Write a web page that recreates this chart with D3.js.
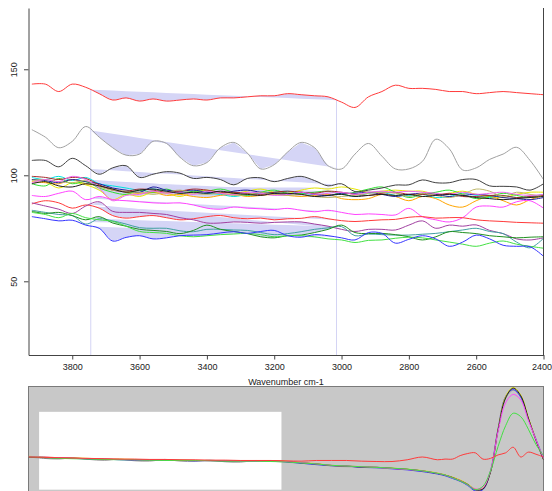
<!DOCTYPE html>
<html><head><meta charset="utf-8">
<script src="https://cdn.jsdelivr.net/npm/d3@7"></script>
<style>
body{margin:0;background:#fff}
svg{display:block}
text{font-family:"Liberation Sans",Arial,sans-serif}
</style>
</head><body>
<svg id="c" width="552" height="491"></svg>
<script>
// ---------- DATA ----------
const wavenumbers = [3920,3880,3840,3800,3760,3720,3680,3640,3600,3560,3520,3480,3440,3400,3360,3320,3280,3240,3200,3160,3120,3080,3040,3000,2960,2920,2880,2840,2800,2760,2720,2680,2640,2600,2560,2520,2480,2440,2400];
const xTicks = [3800,3600,3400,3200,3000,2800,2600,2400];
const yTicks = [50,100,150];
const baselinePoints = [3745, 3015];

const redTop   = [143,143,139.5,143,141.5,138.5,135.5,136.5,135,136,135,135.5,136,135.5,136.5,136.5,137,137.5,137.5,138.5,138,137.5,137,134.5,132,137,139.5,142.5,141,141,140.5,139.5,139.5,138.5,139,139.5,139,138.5,138];
const grayS    = [121.5,118,113,116,123,118,113,109.5,110,116,115,108.5,104.5,106,113,115.5,110.5,103,105,111,115.5,113,104.5,103,110,115,109,103,103,106.5,117,112.5,102.5,103.5,107.5,110,113.2,107,98];
const blackTop = [107,107,104,108,104.5,100.5,103.5,104.5,99,100.5,101.7,101,98.5,99,98,95.5,98.5,98.8,97,98.5,99.5,97.5,95,96,92.3,93,94,95.4,95.5,97.8,96.5,96.5,98,98,95,94.8,94.5,93,96];

const yellowS  = [98,97,94,96.5,95.5,93,88.5,91,90,92,91.5,90,92,93,92,91.5,92.5,93.5,92,91.5,93,94,93.5,94.5,93.5,92,92.5,93,92.5,92.5,91,91.5,92.5,91,90,89.5,91,92,92];
const cyanS    = [99,98,99.5,97.5,99,96,95,94,93,93.5,92.5,92,92,91.5,91,90,91,91.5,92,92.5,91.5,91,90.5,91,90,91.5,92,90.5,90.5,91,89.5,90,91.5,90.5,89.5,90.5,89.5,90,91];
const orangeS  = [97,96.5,96,98,96,95,93.5,92,91.5,92,90.5,91,90,89.5,90.5,91,90,90.5,91,90.5,90,90.5,91,89,88.5,89,91,90,88,90,89,86,85,88,90,88,86,88.5,90.5];
const limeS    = [96,95,98.5,96,97,94,92,91,93,92,93.5,91.5,92.5,92.5,93.5,92,90.5,92,93,91.5,91.5,92,92.5,91,92,93.5,94.5,92,89.5,91,92,93,91,89,90,91.5,90.5,89.5,91];
const navyS    = [98,97.5,96.5,98,97,96,94,93,92,94.5,93,92.5,93,92,91.5,92.5,93,92,91.5,91,92,91,90.5,91.5,91.5,92,91,90,91,91.5,91,90,90.5,91,90.5,89.5,89,88.5,89.5];
const brownS   = [99.5,99,98,99,98.5,95.5,93,92.5,93.5,93,92,92.5,93.5,93,92,92,91.5,91,92,92.5,92,91.5,92.5,92,91,90.5,91.5,92,91,91,90.5,91.5,90,90,90.5,90.5,89.5,90,90.5];
const khakiS   = [97.5,98,97,96.5,97.5,94.5,93,92.5,92,91,92,93,91.5,91,91.5,90.5,91,92,91,90.5,91,90,89.5,90,90.5,91.5,92,91.5,90,91.5,90.5,89.5,91,93.5,92.5,90,92,91,90];
const violetS  = [96.5,98,97,99.5,98,94,88,90.5,91,92.5,91.5,92,91,92.5,91.5,91,92,91.5,90.5,91,92,91,91.5,92,91,92,92.5,92,92.5,92,91.5,91,92,91,91.5,92,91,90.5,91];
const blackS   = [96,97,95,94.5,96,95,93.5,92,93,93.5,92.5,91.5,92,91.5,92.5,91.5,91,90.5,91.5,91.5,91,90,90.5,91,90,90.5,91,90.5,91,90,90.5,91,90.5,89.5,89,88.5,89,89.5,90];

const magentaS = [90.5,90,91.5,92.5,88.5,90,88.5,88,87.5,87,86.8,87,86,84.5,84,85,84.5,84.2,83.8,84.4,83.5,82.8,83.5,82.5,81.5,81.8,81.5,81.3,84.4,80.5,79,78,80,85,85.5,85,87.5,88,84.5];
const redLow   = [86.5,88,87,84.5,86,84.5,81,79.8,80.5,81,80,79,79.5,80.5,81,80,79.5,79.8,79,79.5,79.7,80.5,79.5,78.6,78.2,78.6,79,79.2,80.2,80.5,79.8,80,80,79,78.5,78.2,77.8,77.6,77.4];
const purpleS  = [87,85.5,84,82,85.5,87.5,83,82.5,82.5,82,81.5,80,79,77.5,77.5,78,77.8,77.4,77.8,78,78,77,76,74.5,73.5,74.5,74.5,74.2,76.5,78.5,75,76.5,76,76.6,74,72.5,70,69.5,70.5];
const tealS    = [83.5,82.5,81.5,81,77,79.5,78.5,77,75.3,75,75,73.8,73.4,74.5,74.5,74.2,74,73,72,72.5,73.4,74.5,75.2,75.8,71.5,72.3,72,71.8,71.8,72.2,72.6,73.4,74.2,75,73.5,72.5,68.5,65.8,70.3];
const dkgreenS = [83,82,82.5,81,79,80.5,77.5,76,74.5,74,73.5,72.5,74,76.5,74.5,73.5,72.5,71,70.5,71.5,71.8,73,74.5,76.5,73,72.5,72.6,72,71,69.5,71,73.4,73,72.5,71.5,71,70.5,70.8,71];
const greenS   = [82.5,81.5,80,82,80,79,78.3,76,73.5,73,72.6,71.5,71,71.5,72,72.3,72.6,72,71,71.5,71.5,71,70,69.5,68.3,69.3,69.5,70.3,70.8,70.5,69.5,68.5,67.5,66.5,68,69,67.5,66.5,65.6];
const blueS    = [80.5,79.5,78.5,78.8,76.5,75,69,70.7,71.5,70,70.5,71.5,71.8,72,72.8,73.4,72.6,73.5,74,71.5,70.8,72,71.5,70.5,69.5,73,72.6,68,69.8,71.5,70,66.5,68.5,71.8,70,67,66.5,66.3,61.8];

const seriesNames  = ["yellow","cyan","orange","lime","navy","brown","khaki","violet","black2","magenta","redLow","purple","teal","darkgreen","green","blue","blackTop","gray","redTop"];
const seriesValues = [yellowS,cyanS,orangeS,limeS,navyS,brownS,khakiS,violetS,blackS,magentaS,redLow,purpleS,tealS,dkgreenS,greenS,blueS,blackTop,grayS,redTop];
const seriesColors = ["#e8e800","#00e0e0","#ffa500","#30dd30","#2020a0","#a52a2a","#bdb76b","#ee66ee","#202020","#ff44ff","#ff3a3a","#a040a0","#40a0a0","#209020","#44e044","#3535ff","#404040","#a0a0a0","#ff3a3a"];

// overview (full range) data
const ovWavenumbers = [4000,3900,3800,3700,3600,3500,3400,3300,3200,3100,3000,2900,2800,2700,2600,2500,2400,2300,2200,2100,2000,1900,1800,1700,1600,1500,1400,1300,1250,1200,1150,1100,1050,1000,950,900,850,800,750,700,650,600];
const ovBlack   = [0,-0.01,-0.015,-0.02,-0.025,-0.033,-0.036,-0.04,-0.043,-0.043,-0.047,-0.05,-0.053,-0.058,-0.058,-0.058,-0.058,-0.065,-0.083,-0.1,-0.122,-0.132,-0.144,-0.148,-0.163,-0.177,-0.2,-0.237,-0.26,-0.295,-0.34,-0.395,-0.47,-0.46,-0.22,0.39,0.85,0.99,0.88,0.56,0.24,-0.04];
const ovBlue    = [0.005,-0.005,-0.01,-0.02,-0.03,-0.03,-0.04,-0.045,-0.04,-0.05,-0.05,-0.055,-0.05,-0.06,-0.065,-0.06,-0.055,-0.07,-0.09,-0.11,-0.125,-0.13,-0.15,-0.155,-0.17,-0.185,-0.21,-0.245,-0.27,-0.31,-0.35,-0.41,-0.49,-0.47,-0.2,0.41,0.87,0.97,0.86,0.55,0.26,-0.02];
const ovYellow  = [0.01,0,-0.01,-0.015,-0.02,-0.03,-0.03,-0.035,-0.04,-0.045,-0.045,-0.05,-0.05,-0.055,-0.06,-0.055,-0.06,-0.06,-0.08,-0.095,-0.12,-0.13,-0.14,-0.15,-0.16,-0.175,-0.195,-0.23,-0.255,-0.29,-0.33,-0.39,-0.46,-0.45,-0.21,0.4,0.87,1.0,0.89,0.57,0.25,-0.03];
const ovGray    = [0,-0.02,-0.03,-0.01,-0.035,-0.05,-0.03,-0.055,-0.06,-0.035,-0.06,-0.065,-0.045,-0.07,-0.075,-0.05,-0.06,-0.075,-0.09,-0.105,-0.13,-0.14,-0.145,-0.155,-0.165,-0.18,-0.205,-0.24,-0.265,-0.3,-0.345,-0.4,-0.48,-0.45,-0.21,0.38,0.84,0.96,0.86,0.55,0.25,-0.03];
const ovMagenta = [0.005,0,-0.01,-0.02,-0.025,-0.03,-0.035,-0.04,-0.04,-0.045,-0.05,-0.05,-0.055,-0.055,-0.06,-0.06,-0.06,-0.065,-0.08,-0.1,-0.12,-0.13,-0.14,-0.15,-0.165,-0.18,-0.2,-0.235,-0.26,-0.3,-0.34,-0.4,-0.46,-0.44,-0.2,0.37,0.78,0.9,0.82,0.53,0.25,-0.02];
const ovGreen   = [0,-0.005,-0.02,-0.025,-0.03,-0.035,-0.04,-0.04,-0.045,-0.05,-0.05,-0.05,-0.055,-0.06,-0.06,-0.06,-0.065,-0.07,-0.085,-0.1,-0.12,-0.13,-0.14,-0.15,-0.16,-0.175,-0.2,-0.235,-0.26,-0.3,-0.345,-0.4,-0.47,-0.42,-0.2,0.15,0.45,0.63,0.58,0.4,0.18,0.02];
const ovRed     = [0,-0.005,-0.01,-0.015,-0.02,-0.025,-0.03,-0.03,-0.035,-0.035,-0.04,-0.04,-0.045,-0.045,-0.05,-0.05,-0.05,-0.055,-0.06,-0.05,-0.05,-0.05,-0.06,-0.065,-0.065,-0.04,0.0,-0.04,-0.03,-0.03,0.02,0.05,0.06,-0.03,-0.02,0.03,0.06,0.14,0.0,0.07,0.04,0.0];
const ovSeries = [ovGray,ovBlue,ovYellow,ovBlack,ovMagenta,ovGreen,ovRed];
const ovColors = ["#a0a0a0","#3535ff","#e8e800","#202020","#ff44ff","#44e044","#ff3a3a"];
const selectionWn = [3930, 2330];
const selectionLevel = [-0.47, 0.65];

// ---------- CHART ----------
const svg = d3.select("#c");
const L = 28.5, R = 543.5, T = 8, B = 355;
const x = d3.scaleLinear().domain([3930, 2400]).range([L, R]);
const y = d3.scaleLinear().domain([15.24, 178.9]).range([B, T]);

svg.append("clipPath").attr("id","mainclip").append("rect")
  .attr("x",L).attr("y",T).attr("width",R-L).attr("height",B-T);

const interp = (vals, w) => {
  for (let i = 0; i < wavenumbers.length - 1; i++) {
    const a = wavenumbers[i], b = wavenumbers[i+1];
    if (w <= a && w >= b) { const t = (a - w)/(a - b); return vals[i] + t*(vals[i+1]-vals[i]); }
  }
  return vals[vals.length-1];
};

const plot = svg.append("g").attr("clip-path","url(#mainclip)");
const [w1, w2] = baselinePoints;

// baseline-area fills
const area = d3.area().x(d => x(d.w)).y0(d => y(d.b)).y1(d => y(d.v));
seriesValues.forEach(vals => {
  const v1 = interp(vals, w1), v2 = interp(vals, w2);
  const pts = [{w:w1, v:v1}];
  wavenumbers.forEach((w,i) => { if (w < w1 && w > w2) pts.push({w, v: vals[i]}); });
  pts.push({w:w2, v:v2});
  pts.forEach(p => { p.b = v1 + (v2 - v1) * (w1 - p.w) / (w1 - w2); });
  plot.append("path").attr("d", area(pts)).attr("fill","#d5d5f6").attr("stroke","none");
});

// vertical baseline markers
baselinePoints.forEach(w => {
  const top = d3.max(seriesValues, v => interp(v, w));
  plot.append("line").attr("x1",x(w)).attr("x2",x(w)).attr("y1",y(top)).attr("y2",B)
    .attr("stroke","#d4d4f4").attr("stroke-width",1);
});

// spectra
const line = d3.line().x((d,i) => x(wavenumbers[i])).y(d => y(d)).curve(d3.curveCatmullRom.alpha(0.5));
seriesValues.forEach((vals, k) => {
  plot.append("path").attr("d", line(vals)).attr("fill","none")
    .attr("stroke", seriesColors[k]).attr("stroke-width", 1);
});

// axes
const gx = svg.append("g").attr("transform",`translate(0,${B})`)
  .call(d3.axisBottom(x).tickValues(xTicks).tickSize(4.5).tickSizeOuter(0).tickFormat(d3.format("d")));
gx.selectAll("path,line").attr("stroke","#444");
gx.selectAll("text").attr("font-size","9px").attr("fill","#222").attr("y",9).attr("dy","0.71em");
gx.selectAll(".tick").filter(d => d === 2400).select("text")
  .attr("text-anchor","end").attr("x",8);

const gy = svg.append("g").attr("transform",`translate(${L},0)`)
  .call(d3.axisLeft(y).tickValues(yTicks).tickSize(4.5).tickSizeOuter(0));
gy.selectAll("path,line").attr("stroke","#444");
gy.selectAll("text").attr("font-size","9px").attr("fill","#222")
  .attr("transform","rotate(-90)").attr("x",0).attr("y",-11.5).attr("dy",0)
  .attr("text-anchor","middle");

svg.append("line").attr("x1",R).attr("x2",R).attr("y1",T).attr("y2",B).attr("stroke","#444");

svg.append("text").attr("x",(L+R)/2).attr("y",385).attr("text-anchor","middle")
  .attr("font-size","9px").attr("fill","#222").text("Wavenumber cm-1");

// ---------- OVERVIEW ----------
const OT = 386.5, OB = 491.75;
const xo = d3.scaleLinear().domain([4000, 600]).range([L, R]);
const yo = d3.scaleLinear().domain([-0.5, 1]).range([OB, 387.5]);
svg.append("clipPath").attr("id","ovclip").append("rect")
  .attr("x",L).attr("y",OT).attr("width",R-L).attr("height",120);
svg.append("rect").attr("x",L).attr("y",OT).attr("width",R-L).attr("height",120)
  .attr("fill","#c8c8c8").attr("stroke","#7a7a7a").attr("stroke-width",1);
svg.append("rect").attr("x",xo(selectionWn[0])).attr("y",yo(selectionLevel[1]))
  .attr("width",xo(selectionWn[1])-xo(selectionWn[0]))
  .attr("height",yo(selectionLevel[0])-yo(selectionLevel[1]))
  .attr("fill","#ffffff");
const ov = svg.append("g").attr("clip-path","url(#ovclip)");
const oline = d3.line().x((d,i) => xo(ovWavenumbers[i])).y(d => yo(d)).curve(d3.curveCatmullRom.alpha(0.5));
ovSeries.forEach((vals,k) => {
  ov.append("path").attr("d", oline(vals)).attr("fill","none")
    .attr("stroke", ovColors[k]).attr("stroke-width", 1);
});
</script>
</body></html>
